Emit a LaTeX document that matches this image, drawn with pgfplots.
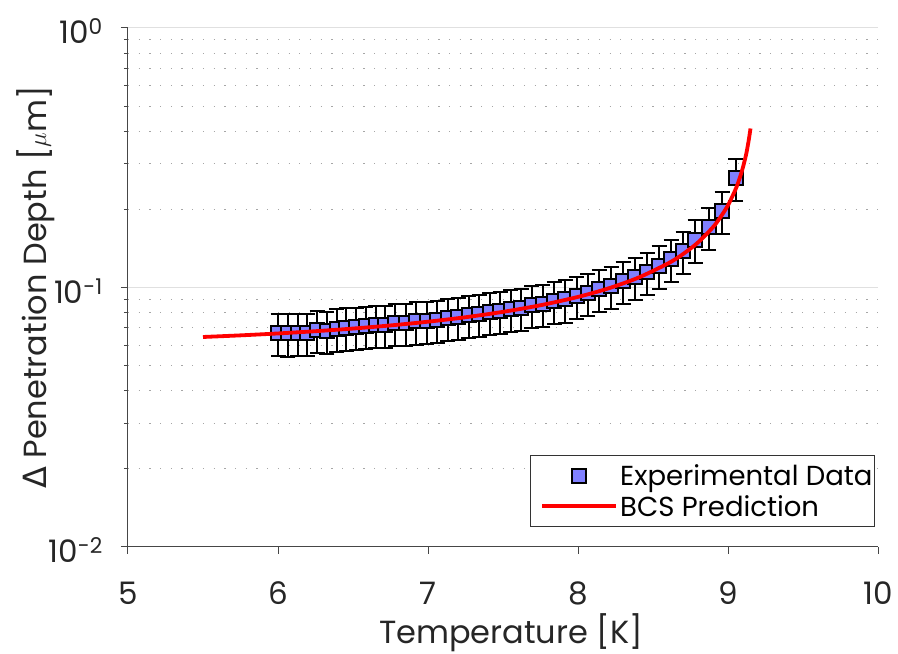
\documentclass[border=0pt]{standalone}
\usepackage{pgfplots}
\pgfplotsset{compat=1.18}
\usepackage{pgfplotstable}
\usetikzlibrary{calc}
\usepackage{fontspec}
\setmainfont{Poppins}
\newfontfamily\dejavu{DejaVu Sans}
\definecolor{datafill}{RGB}{128,128,255}
\definecolor{axgray}{RGB}{70,70,70}
\pgfplotsset{set layers,
  legmark/.style={legend image code/.code={\path (0pt,0pt); \draw[##1, mark repeat=2, mark phase=2] plot coordinates {(10pt,0pt) (47pt,0pt) (84pt,0pt)};}},
  legline/.style={legend image code/.code={\path (0pt,0pt); \draw[##1] (10pt,0pt) -- (84pt,0pt);}}
}

\pgfplotstableread{
x y e
6.00 0.0668 0.0124
6.065 0.0665 0.0123
6.13 0.0670 0.0124
6.195 0.0668 0.0124
6.26 0.0685 0.0127
6.325 0.0680 0.0126
6.39 0.0695 0.0129
6.455 0.0700 0.0130
6.52 0.0705 0.0130
6.585 0.0712 0.0132
6.65 0.0718 0.0133
6.715 0.0715 0.0132
6.78 0.0730 0.0135
6.85 0.0728 0.0135
6.92 0.0740 0.0137
6.99 0.0745 0.0138
7.06 0.0752 0.0139
7.13 0.0765 0.0142
7.20 0.0770 0.0142
7.27 0.0782 0.0145
7.34 0.0790 0.0146
7.41 0.0805 0.0149
7.48 0.0810 0.0150
7.55 0.0828 0.0153
7.62 0.0835 0.0154
7.69 0.0855 0.0158
7.765 0.0862 0.0159
7.84 0.0885 0.0164
7.915 0.0900 0.0167
7.99 0.0930 0.0172
8.065 0.0950 0.0176
8.14 0.0985 0.0182
8.22 0.1010 0.0187
8.30 0.1060 0.0196
8.38 0.1095 0.0203
8.46 0.1150 0.0213
8.54 0.1215 0.0225
8.62 0.1290 0.0239
8.70 0.1380 0.0255
8.78 0.1530 0.0283
8.87 0.1710 0.0316
8.96 0.1970 0.0364
9.05 0.2640 0.0488
}\expdata

\pgfplotstableread{
x y
5.50 0.06446
5.75 0.06540
6.00 0.06652
6.25 0.06786
6.50 0.06947
6.75 0.07143
7.00 0.07383
7.25 0.07681
7.50 0.08057
7.75 0.08544
8.00 0.09199
8.20 0.09912
8.40 0.10900
8.60 0.12380
8.70 0.13451
8.80 0.14915
8.90 0.17082
8.95 0.18680
9.00 0.20751
9.05 0.23863
9.08 0.26600
9.10 0.29109
9.12 0.32400
9.13 0.34705
9.14 0.37500
9.15 0.41000
}\bcs

\begin{document}
\begin{tikzpicture}
\begin{axis}[
  name=ax,
  scale only axis, width=750pt, height=519pt,
  xmin=5, xmax=10, ymode=log, ymin=0.01, ymax=1,
  xtick={5,6,7,8,9,10},
  ytick={0.01,0.1,1},
  yticklabels={10\textsuperscript{-2},10\textsuperscript{-1},10\textsuperscript{0}},
  axis x line*=bottom, axis y line*=left,
  axis line style={axgray, line width=1pt, -},
  tick align=outside,
  major tick length=7pt, minor tick length=4pt,
  tick style={axgray, line width=1pt},
  xminorticks=false,
  ymajorgrids, yminorgrids,
  major grid style={black!12, line width=1pt},
  minor grid style={black!35, line width=1pt, dash pattern=on 1.2pt off 9.5pt},
  /pgf/number format/assume math mode=true,
  ticklabel style={font=\fontsize{31}{36}\selectfont, text=black!85, inner sep=0pt},
  xticklabel style={anchor=base, yshift=-51pt},
  yticklabel style={anchor=base east, xshift=-18pt, yshift=-16pt},
  xlabel={Temperature [K]},
  ylabel={{\dejavu Δ} Penetration Depth [$\mu$m]},
  label style={font=\fontsize{32}{38}\selectfont, text=black!85, inner sep=0pt},
  xlabel style={at={(axis description cs:0.5107,-0.185)}, anchor=base},
  ylabel style={at={(axis description cs:-0.1093,0.5)}, anchor=base},
  legend style={at={(0.996,0.0385)}, anchor=south east, draw=black!80, line width=1pt,
    font=\fontsize{27.5}{33}\selectfont, fill=white, inner xsep=0pt, inner ysep=7pt,
    row sep=4pt, nodes={inner sep=2pt}},
  legend cell align=left,
]
\addplot[only marks, mark=square*, mark size=7pt,
  mark options={fill=datafill, draw=black, line width=2pt},
  legmark,
  error bars/.cd, y dir=both, y explicit,
  error bar style={black, line width=2pt},
  error mark options={rotate=90, mark size=7.5pt, line width=2pt, black}]
  table[x=x, y=y, y error=e]{\expdata};
\addlegendentry{Experimental Data}
\addplot[red, line width=3.8pt, smooth, on layer=axis foreground, legline]
  table[x=x, y=y]{\bcs};
\addlegendentry{BCS Prediction}
\end{axis}
\pgfresetboundingbox
\path[use as bounding box] ($(ax.south west)+(-128pt,-107pt)$) rectangle ($(ax.north east)+(20pt,28pt)$);
\end{tikzpicture}
\end{document}
